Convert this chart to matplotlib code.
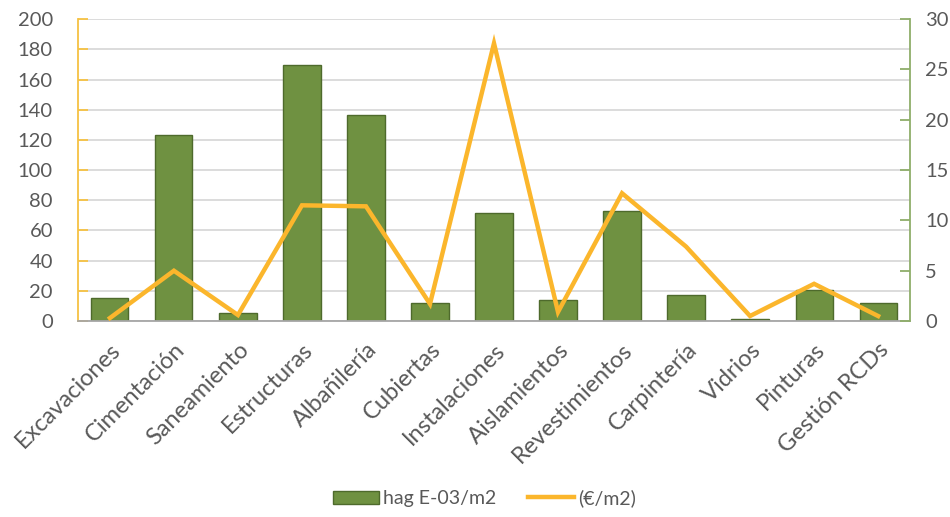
import matplotlib
matplotlib.use("Agg")
import matplotlib.pyplot as plt
from matplotlib.patches import Patch
from matplotlib.lines import Line2D

categories = ["Excavaciones", "Cimentación", "Saneamiento", "Estructuras", "Albañilería",
              "Cubiertas", "Instalaciones", "Aislamientos", "Revestimientos", "Carpintería",
              "Vidrios", "Pinturas", "Gestión RCDs"]
hag_values = [15, 123, 5.5, 169.5, 136.5, 12, 71.5, 14, 73, 17.5, 1.3, 20.5, 12]
cost_values = [0.3, 5.0, 0.6, 11.5, 11.4, 1.7, 27.6, 0.9, 12.7, 7.4, 0.5, 3.7, 0.5]
left_ticks = list(range(0, 201, 20))
right_ticks = list(range(0, 31, 5))

BAR = "#6f9141"
BAR_EDGE = "#4e6a2c"
LINE = "#fbb62c"
GRID = "#d9d9d9"
TEXT = "#595959"

plt.rcParams["font.family"] = ["Lato", "DejaVu Sans"]

fig = plt.figure(figsize=(9.5, 5.17), dpi=100)
ax = fig.add_axes([0.082, 0.379, 0.876, 0.584])
ax2 = ax.twinx()

x = list(range(len(categories)))
ax.bar(x, hag_values, width=0.58, color=BAR, edgecolor=BAR_EDGE, linewidth=1.0, zorder=2)
ax2.plot(x, cost_values, color=LINE, linewidth=3.2, solid_joinstyle="miter", zorder=3)

ax.set_xlim(-0.5, len(categories) - 0.5)
ax.set_ylim(0, 200)
ax2.set_ylim(0, 30)
ax.set_yticks(left_ticks)
ax2.set_yticks(right_ticks)

ax.yaxis.grid(True, color=GRID, linewidth=1.3, zorder=0)
ax.set_axisbelow(True)

for a in (ax, ax2):
    for s in a.spines.values():
        s.set_visible(False)

ax.spines["left"].set_visible(True)
ax.spines["left"].set_color("#f6c243")
ax.spines["left"].set_linewidth(1.3)
ax.spines["bottom"].set_visible(True)
ax.spines["bottom"].set_color("#a6a6a6")
ax.spines["bottom"].set_linewidth(1.3)
ax2.spines["right"].set_visible(True)
ax2.spines["right"].set_color("#8fae6a")
ax2.spines["right"].set_linewidth(1.3)

ax.tick_params(axis="y", direction="in", length=7, width=1.3, color="#f6c243",
               labelsize=14.5, labelcolor=TEXT, pad=18)
ax2.tick_params(axis="y", direction="in", length=7, width=1.3, color="#8fae6a",
                labelsize=14.5, labelcolor=TEXT, pad=11)
ax.tick_params(axis="x", length=0, pad=13)
ax.set_xticks(x)
ax.set_xticklabels(categories, rotation=45, ha="right", rotation_mode="anchor",
                   fontsize=17, color=TEXT)

handles = [Patch(facecolor=BAR, edgecolor=BAR_EDGE, label="hag E-03/m2"),
           Line2D([0], [0], color=LINE, linewidth=3.2, label="(€/m2)")]
fig.legend(handles=handles, loc="lower center", bbox_to_anchor=(0.51, -0.015), ncol=2,
           frameon=False, fontsize=14, labelcolor=TEXT, handlelength=2.4,
           handletextpad=0.2, columnspacing=1.6)

fig.savefig("out.png", dpi=100, facecolor="white")
